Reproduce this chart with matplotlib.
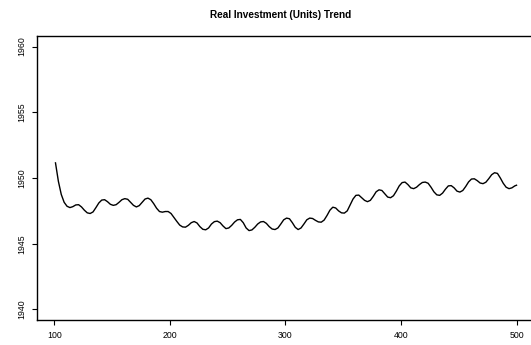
import numpy as np
import matplotlib
matplotlib.use("Agg")
import matplotlib.pyplot as plt

plt.rcParams['font.family'] = ['Liberation Sans', 'DejaVu Sans']

# Period index (every 2.5 units, plus the final point)
period = np.append(np.arange(101, 500, 2.5), 500)

# Trend of real investment (units)
trend = [
    1951.15, 1949.75, 1948.75, 1948.15, 1947.85, 1947.75, 1947.82, 1947.95,
    1947.97, 1947.80, 1947.55, 1947.35, 1947.30, 1947.42, 1947.75, 1948.10,
    1948.32, 1948.35, 1948.20, 1948.00, 1947.92, 1947.97, 1948.15, 1948.35,
    1948.43, 1948.38, 1948.15, 1947.92, 1947.80, 1947.90, 1948.15, 1948.40,
    1948.47, 1948.35, 1948.05, 1947.70, 1947.45, 1947.40, 1947.45, 1947.45,
    1947.30, 1947.00, 1946.70, 1946.42, 1946.28, 1946.26, 1946.40, 1946.60,
    1946.69, 1946.58, 1946.30, 1946.10, 1946.06, 1946.20, 1946.50, 1946.68,
    1946.72, 1946.60, 1946.35, 1946.15, 1946.20, 1946.40, 1946.65, 1946.82,
    1946.85, 1946.60, 1946.20, 1946.00, 1946.05, 1946.25, 1946.50, 1946.66,
    1946.69, 1946.55, 1946.30, 1946.12, 1946.08, 1946.20, 1946.50, 1946.82,
    1946.95, 1946.90, 1946.60, 1946.25, 1946.08, 1946.20, 1946.50, 1946.82,
    1946.95, 1946.92, 1946.78, 1946.66, 1946.64, 1946.80, 1947.15, 1947.55,
    1947.78, 1947.72, 1947.50, 1947.35, 1947.33, 1947.50, 1947.95, 1948.40,
    1948.68, 1948.70, 1948.50, 1948.30, 1948.20, 1948.30, 1948.60, 1948.95,
    1949.10, 1949.05, 1948.80, 1948.55, 1948.50, 1948.65, 1949.00, 1949.40,
    1949.65, 1949.69, 1949.50, 1949.25, 1949.19, 1949.30, 1949.50, 1949.66,
    1949.69, 1949.60, 1949.30, 1948.95, 1948.72, 1948.68, 1948.85, 1949.15,
    1949.40, 1949.42, 1949.25, 1949.00, 1948.93, 1949.05, 1949.35, 1949.70,
    1949.92, 1949.94, 1949.80, 1949.62, 1949.57, 1949.68, 1949.95, 1950.25,
    1950.40, 1950.35, 1950.00, 1949.60, 1949.30, 1949.19, 1949.25, 1949.40,
    1949.45,
]

x_ticks = [100, 200, 300, 400, 500]
y_ticks = [1940, 1945, 1950, 1955, 1960]
title = "Real Investment (Units) Trend"

W, H = 531, 345
fig = plt.figure(figsize=(W / 100, H / 100), dpi=100)
ax = fig.add_axes([37 / W, 25 / H, 498 / W, 284 / H])

ax.plot(period, trend, color="black", lw=1.0)

ax.set_xlim(85, 516)
ax.set_ylim(1939.2, 1960.8)
ax.set_xticks(x_ticks)
ax.set_yticks(y_ticks)
ax.set_yticklabels([str(v) for v in y_ticks], rotation=90, va="center")

for s in ax.spines.values():
    s.set_color("black")
    s.set_linewidth(1.0)

ax.tick_params(axis="both", direction="out", length=3.6, width=0.8,
               labelsize=6.3, colors="black")
ax.tick_params(axis="x", pad=4)
ax.tick_params(axis="y", pad=4)

fig.text(281 / W, 1 - 15 / H, title, ha="center", va="center",
         fontsize=7.2, fontweight="bold")

fig.savefig("out.png", dpi=100)
